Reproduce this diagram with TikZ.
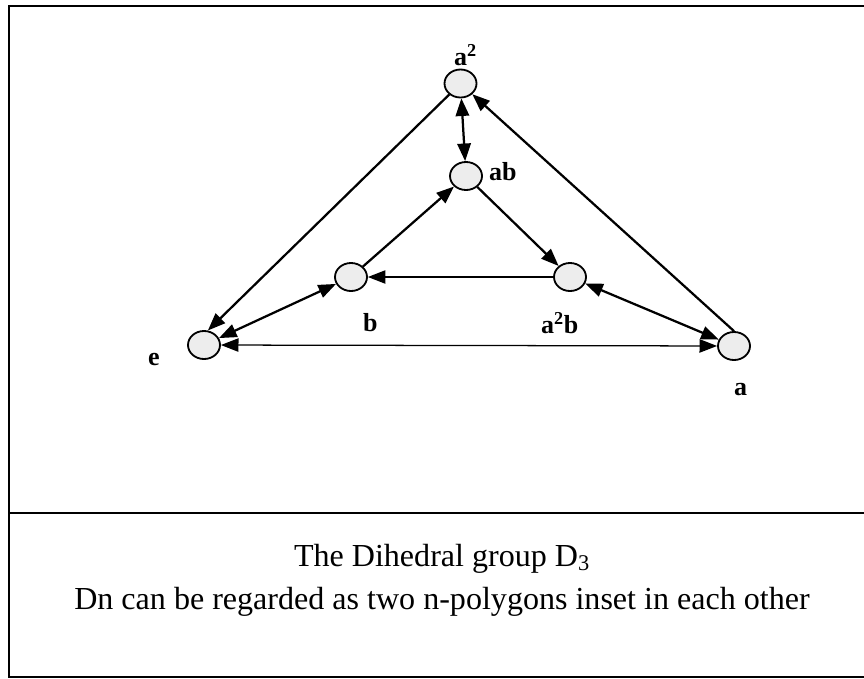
\documentclass[tikz,border=0pt]{standalone}
\usepackage{fontspec}
\setmainfont{Liberation Serif}
\usetikzlibrary{arrows.meta,shapes.geometric}

\begin{document}
\begin{tikzpicture}[x=0.025cm,y=-0.025cm,line width=1.6pt,>={Triangle[length=12.5pt,width=9.5pt]},
  elem/.style={ellipse,draw,line width=1.3pt,fill=gray!14,inner sep=0pt,minimum width=0.8cm,minimum height=0.7cm},
  lbl/.style={anchor=base west,inner sep=0pt,font=\fontsize{18.5}{20}\selectfont\bfseries},
  thinedge/.style={line width=0.9pt}]
  \useasboundingbox (0,0) rectangle (864,679);
  % marco
  \draw[line width=1.5pt] (864,6) -- (9,6) -- (9,677) -- (864,677);
  \draw[line width=1.5pt] (9,513) -- (864,513);
  % vertices
  \node[elem] (a2)  at (460.5,83.5) {};
  \node[elem] (ab)  at (466,176) {};
  \node[elem] (b)   at (351,277) {};
  \node[elem] (a2b) at (570,277) {};
  \node[elem] (e)   at (204,345) {};
  \node[elem] (a)   at (734,346) {};
  % etiquetas
  \node[lbl] (la2)  at (453,65)  {a\textsuperscript{2}};
  \node[lbl] (lab)  at (488,180) {ab};
  \node[lbl] (lb)   at (362,331) {b};
  \node[lbl] (la2b) at (540,333) {a\textsuperscript{2}b};
  \node[lbl] (le)   at (147,365) {e};
  \node[lbl] (la)   at (733,395) {a};
  % triangulo exterior
  \draw[->] (a.north) -- (a2);
  \draw[->] (a2) -- (e.75);
  \draw[<->,thinedge] (e) -- (a);
  % triangulo interior
  \draw[->] (b) -- (ab);
  \draw[->] (ab) -- (a2b);
  \draw[->,thinedge] (a2b) -- (b);
  % uniones
  \draw[<->] (a2) -- (ab);
  \draw[<->] (e) -- (b);
  \draw[<->] (a2b) -- (a);
  % texto
  \node[anchor=base,font=\fontsize{22.8}{24}\selectfont] (tit) at (442,566) {The Dihedral group D\textsubscript{3}};
  \node[anchor=base,font=\fontsize{22.8}{24}\selectfont] (txt) at (442,609) {Dn can be regarded as two n-polygons inset in each other};
\end{tikzpicture}
\end{document}
